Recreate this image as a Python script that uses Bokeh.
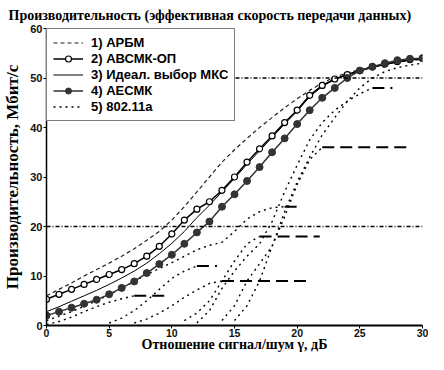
from bokeh.plotting import figure
from bokeh.models import Legend, LegendItem, Span, Title
from bokeh.embed import file_html
from bokeh.resources import INLINE

# ---------------- data ----------------
snr_db = list(range(31))

arbm = [6, 7.3, 8.6, 10, 11.3, 12.6, 14, 15.5, 17.2, 19, 21.3, 24, 27, 30, 33, 35.5,
        37.8, 40, 42, 44, 45.8, 47.5, 49, 50.2, 51, 51.7, 52.3, 52.8, 53.2, 53.5, 53.8]
avsmk_op = [5.3, 6.3, 7.3, 8.3, 9.3, 10.3, 11.3, 12.5, 14, 16, 18.5, 21.3, 23.5, 25, 27.3, 30,
            33, 35.7, 38.3, 41, 43.5, 46.5, 48.5, 49.8, 50.7, 51.5, 52.2, 52.8, 53.3, 53.7, 54]
ideal_mcs = [2.8, 3.8, 4.9, 6, 7.1, 8.3, 9.6, 11, 12.6, 14.5, 16.6, 19, 21.8, 24.3, 27, 29.7,
             32.6, 35.3, 38, 40.7, 43.3, 46.2, 48.3, 49.7, 50.6, 51.4, 52.1, 52.7, 53.2, 53.6, 53.9]
aesmk = [2, 2.8, 3.6, 4.4, 5.2, 6.3, 7.6, 8.9, 10.6, 12.4, 14.3, 16.5, 18.8, 21, 24, 26.5,
         29.2, 32, 35, 37.8, 40.7, 43.5, 46, 48, 50, 51.5, 52.3, 53, 53.6, 53.9, 54]

# 802.11a curves: rising part (x, y) and end of the saturation plateau
wifi6_x = [0, 1, 2, 3, 4, 5, 6, 7]
wifi6_y = [0.2, 0.8, 1.7, 2.8, 3.8, 4.7, 5.4, 6]
wifi6_end = 9.5
wifi9_x = [7, 8, 9, 10, 11, 12, 13, 14]
wifi9_y = [0.5, 1.3, 2.5, 4, 5.7, 7.2, 8.5, 9]
wifi9_end = 21
wifi12_x = [5, 6, 7, 8, 9, 10, 11, 12]
wifi12_y = [0.5, 1.5, 3, 5, 7.3, 9.5, 11, 12]
wifi12_end = 13.6
wifi18_x = [11, 12, 13, 14, 15, 16, 17]
wifi18_y = [1, 2.5, 5, 9, 13, 16.5, 18]
wifi18_end = 21.8
wifi24_x = [0, 2, 4, 6, 8, 10, 12, 13, 14, 15, 16, 17, 18, 19]
wifi24_y = [1, 2.8, 5, 7.5, 10.3, 12.7, 15.3, 16.2, 16.8, 19, 21.5, 23, 23.8, 24]
wifi24_end = 20.3
wifi36_x = [14, 15, 16, 17, 18, 19, 20, 21, 22]
wifi36_y = [1, 4, 9, 12.5, 16, 22, 28.5, 33.5, 36]
wifi36_end = 29
wifi48_x = [12, 13, 14, 15, 16, 17, 18, 19, 20, 21, 22, 23, 24, 25, 26]
wifi48_y = [0.5, 3, 7.5, 11, 14, 16.5, 21, 27, 32.4, 37.5, 41, 43.5, 45.3, 46.8, 48]
wifi48_end = 27.6
wifi54_x = [15, 16, 17, 18, 19, 20, 21, 22, 23, 24, 25, 26, 27, 28, 29, 30]
wifi54_y = [1, 4, 9, 16, 23, 29, 34, 38.5, 42, 45.3, 48, 50, 51.3, 52.1, 52.6, 53]
wifi54_end = None

ref_levels = [20, 50]

x_ticks = [0, 5, 10, 15, 20, 25, 30]
y_ticks = [0, 10, 20, 30, 40, 50, 60]

labels = ["1) АРБМ", "2) АВСМК-ОП", "3) Идеал. выбор МКС", "4) АЕСМК", "5) 802.11a"]

# ---------------- figure ----------------
SERIF = "Liberation Serif"
SANS = "Liberation Sans"

p = figure(width=428, height=354, x_range=(0, 30), y_range=(0, 60),
           output_backend="svg", toolbar_location=None,
           min_border_left=44, min_border_right=6, min_border_top=22,
           min_border_bottom=0)
p.title = Title(text="Производительность (эффективная скорость передачи данных)",
                align="left", offset=-38, standoff=11,
                text_font=SERIF, text_font_size="14px", text_font_style="bold",
                text_color="black")
p.outline_line_color = None
p.xgrid.grid_line_color = None
p.ygrid.grid_line_color = None
p.background_fill_color = "white"
p.border_fill_color = "white"

p.xaxis.ticker = x_ticks
p.yaxis.ticker = y_ticks
p.axis.minor_tick_line_color = None
p.axis.major_tick_in = 0
p.axis.major_tick_out = 3
p.axis.major_tick_line_color = "black"
p.axis.major_label_text_font = SANS
p.axis.major_label_text_font_style = "bold"
p.axis.major_label_text_font_size = "11px"
p.axis.major_label_text_color = "#111111"
p.xaxis.major_label_text_font_size = "10.5px"
p.axis.major_label_standoff = 1
p.xaxis.major_label_standoff = 0
p.xaxis.axis_line_width = 2
p.yaxis.axis_line_width = 1.5
p.axis.axis_line_color = "black"
p.xaxis.axis_label = "Отношение сигнал/шум γ, дБ"
p.yaxis.axis_label = "Производительность, Мбит/с"
p.axis.axis_label_text_font = SERIF
p.axis.axis_label_text_font_style = "bold"
p.axis.axis_label_text_color = "black"
p.xaxis.axis_label_text_font_size = "14px"
p.yaxis.axis_label_text_font_size = "17px"
p.xaxis.axis_label_standoff = -3
p.yaxis.axis_label_standoff = 5

# 802.11a curves
wifi = [(wifi6_x, wifi6_y, wifi6_end), (wifi9_x, wifi9_y, wifi9_end),
        (wifi12_x, wifi12_y, wifi12_end), (wifi18_x, wifi18_y, wifi18_end),
        (wifi24_x, wifi24_y, wifi24_end), (wifi36_x, wifi36_y, wifi36_end),
        (wifi48_x, wifi48_y, wifi48_end), (wifi54_x, wifi54_y, wifi54_end)]
wifi_renderers = []
for wx, wy, wend in wifi:
    r = p.line(wx, wy, line_color="black", line_width=1.4, line_dash="2 4")
    wifi_renderers.append(r)
    if wend is not None:
        p.line([wx[-1], wend], [wy[-1], wy[-1]], line_color="black",
               line_width=2, line_dash="12 6")

# reference levels (dash-dot)
for lvl in ref_levels:
    p.add_layout(Span(location=lvl, dimension="width", line_color="black",
                      line_width=1.5, line_dash="4 2 1 2"))

r_arbm = p.line(snr_db, arbm, line_color="#222222", line_width=1.2, line_dash="4 3")
r_ideal = p.line(snr_db, ideal_mcs, line_color="black", line_width=1)
r_op_l = p.line(snr_db, avsmk_op, line_color="black", line_width=1.5)
r_op_m = p.scatter(snr_db, avsmk_op, marker="circle", size=6, fill_color="white",
                   line_color="black", line_width=1.2)
r_ae_l = p.line(snr_db, aesmk, line_color="#333333", line_width=1.5)
r_ae_m = p.scatter(snr_db, aesmk, marker="circle", size=7, fill_color="#333333",
                   line_color="#333333")

legend = Legend(items=[
    LegendItem(label=labels[0], renderers=[r_arbm]),
    LegendItem(label=labels[1], renderers=[r_op_l, r_op_m]),
    LegendItem(label=labels[2], renderers=[r_ideal]),
    LegendItem(label=labels[3], renderers=[r_ae_l, r_ae_m]),
    LegendItem(label=labels[4], renderers=[wifi_renderers[0]]),
], location="top_left")
legend.margin = 0
legend.padding = 6
legend.spacing = 1
legend.glyph_width = 30
legend.glyph_height = 15
legend.label_height = 15
legend.label_standoff = 8
legend.label_text_font = SANS
legend.label_text_font_style = "bold"
legend.label_text_font_size = "13px"
legend.label_text_color = "black"
legend.border_line_color = "black"
legend.border_line_width = 1.5
legend.background_fill_color = "white"
legend.background_fill_alpha = 1
p.add_layout(legend)

open("out.html", "w").write(file_html(p, INLINE))
